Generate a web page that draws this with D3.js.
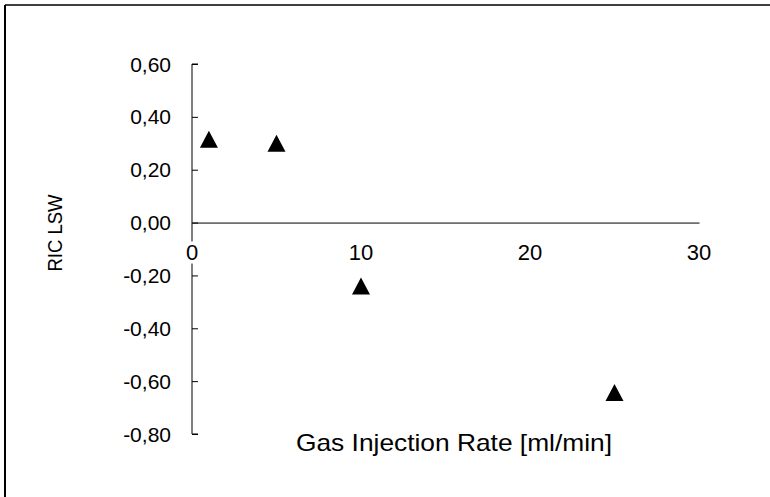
<!doctype html>
<html lang="en">
<head>
  <meta charset="utf-8">
  <script src="https://d3js.org/d3.v7.min.js"></script>
  <style>
    body { margin: 0; background: #fff; }
    text { font-family: Arial, "Liberation Sans", sans-serif; fill: #000; }
  </style>
</head>
<body>
  <script>
    var width = 770,
        height = 497;

    // data
    var gasRate = [1, 5, 10, 25];            // ml/min
    var ricLsw  = [0.315, 0.30, -0.24, -0.643];
    var yTicks  = [0.6, 0.4, 0.2, 0, -0.2, -0.4, -0.6, -0.8];
    var xTicks  = [0, 10, 20, 30];

    var svg = d3.select("body").append("svg")
        .attr("width", width)
        .attr("height", height);

    // chart frame (only top and left edges show)
    svg.append("line").attr("x1", 5).attr("y1", 5).attr("x2", width).attr("y2", 5)
        .style("stroke", "#000").style("stroke-width", 1.5);
    svg.append("line").attr("x1", 5).attr("y1", 5).attr("x2", 5).attr("y2", height)
        .style("stroke", "#000").style("stroke-width", 2);

    var x = d3.scaleLinear().domain([0, 30]).range([192, 699]);
    var y = d3.scaleLinear().domain([-0.8, 0.6]).range([434, 64]);

    var fmt = function(d) { return d3.format(".2f")(d).replace(".", ",").replace("−", "-"); };

    // y axis: ticks point into the plot
    var yAxis = svg.append("g")
        .attr("transform", "translate(" + x(0) + ",0)")
        .call(d3.axisRight(y).tickValues(yTicks).tickSize(6).tickFormat(""));
    yAxis.select(".domain").attr("d", "M6," + y(0.6) + "H0V" + y(-0.8) + "H6");
    yAxis.selectAll("path, line").style("stroke", "#000").style("stroke-width", 1);

    svg.selectAll(".ylab")
        .data(yTicks)
      .enter().append("text")
        .attr("class", "ylab")
        .attr("x", 171)
        .attr("y", function(d) { return y(d); })
        .attr("dy", "0.36em")
        .attr("text-anchor", "end")
        .style("font-size", "21px")
        .text(fmt);

    // x axis at zero, no tick marks
    var xAxis = svg.append("g")
        .attr("transform", "translate(0," + y(0) + ")")
        .call(d3.axisBottom(x).tickValues(xTicks).tickSize(0).tickFormat(""));
    xAxis.select(".domain").style("stroke", "#000").style("stroke-width", 1);

    svg.selectAll(".xlab")
        .data(xTicks)
      .enter().append("text")
        .attr("class", "xlab")
        .attr("x", function(d) { return x(d); })
        .attr("y", y(0) + 37)
        .attr("text-anchor", "middle")
        .style("font-size", "22px")
        .style("stroke", "#fff")
        .style("stroke-width", 7)
        .style("paint-order", "stroke")
        .text(function(d) { return d; });

    // markers: solid triangles, 18 wide x 17 high
    var triangle = {
      draw: function(ctx) {
        ctx.moveTo(0, -8.5);
        ctx.lineTo(9, 8.5);
        ctx.lineTo(-9, 8.5);
        ctx.closePath();
      }
    };
    svg.selectAll(".pt")
        .data(gasRate)
      .enter().append("path")
        .attr("class", "pt")
        .attr("d", d3.symbol().type(triangle))
        .attr("transform", function(d, i) {
          return "translate(" + x(d) + "," + y(ricLsw[i]) + ")";
        })
        .style("fill", "#000");

    // axis titles
    svg.append("text")
        .attr("x", 296)
        .attr("y", 451)
        .attr("textLength", 316)
        .attr("lengthAdjust", "spacingAndGlyphs")
        .style("font-size", "24px")
        .text("Gas Injection Rate [ml/min]");

    svg.append("text")
        .attr("transform", "translate(62,233) rotate(-90)")
        .attr("text-anchor", "middle")
        .attr("textLength", 77)
        .attr("lengthAdjust", "spacingAndGlyphs")
        .style("font-size", "20px")
        .text("RIC LSW");
  </script>
</body>
</html>
